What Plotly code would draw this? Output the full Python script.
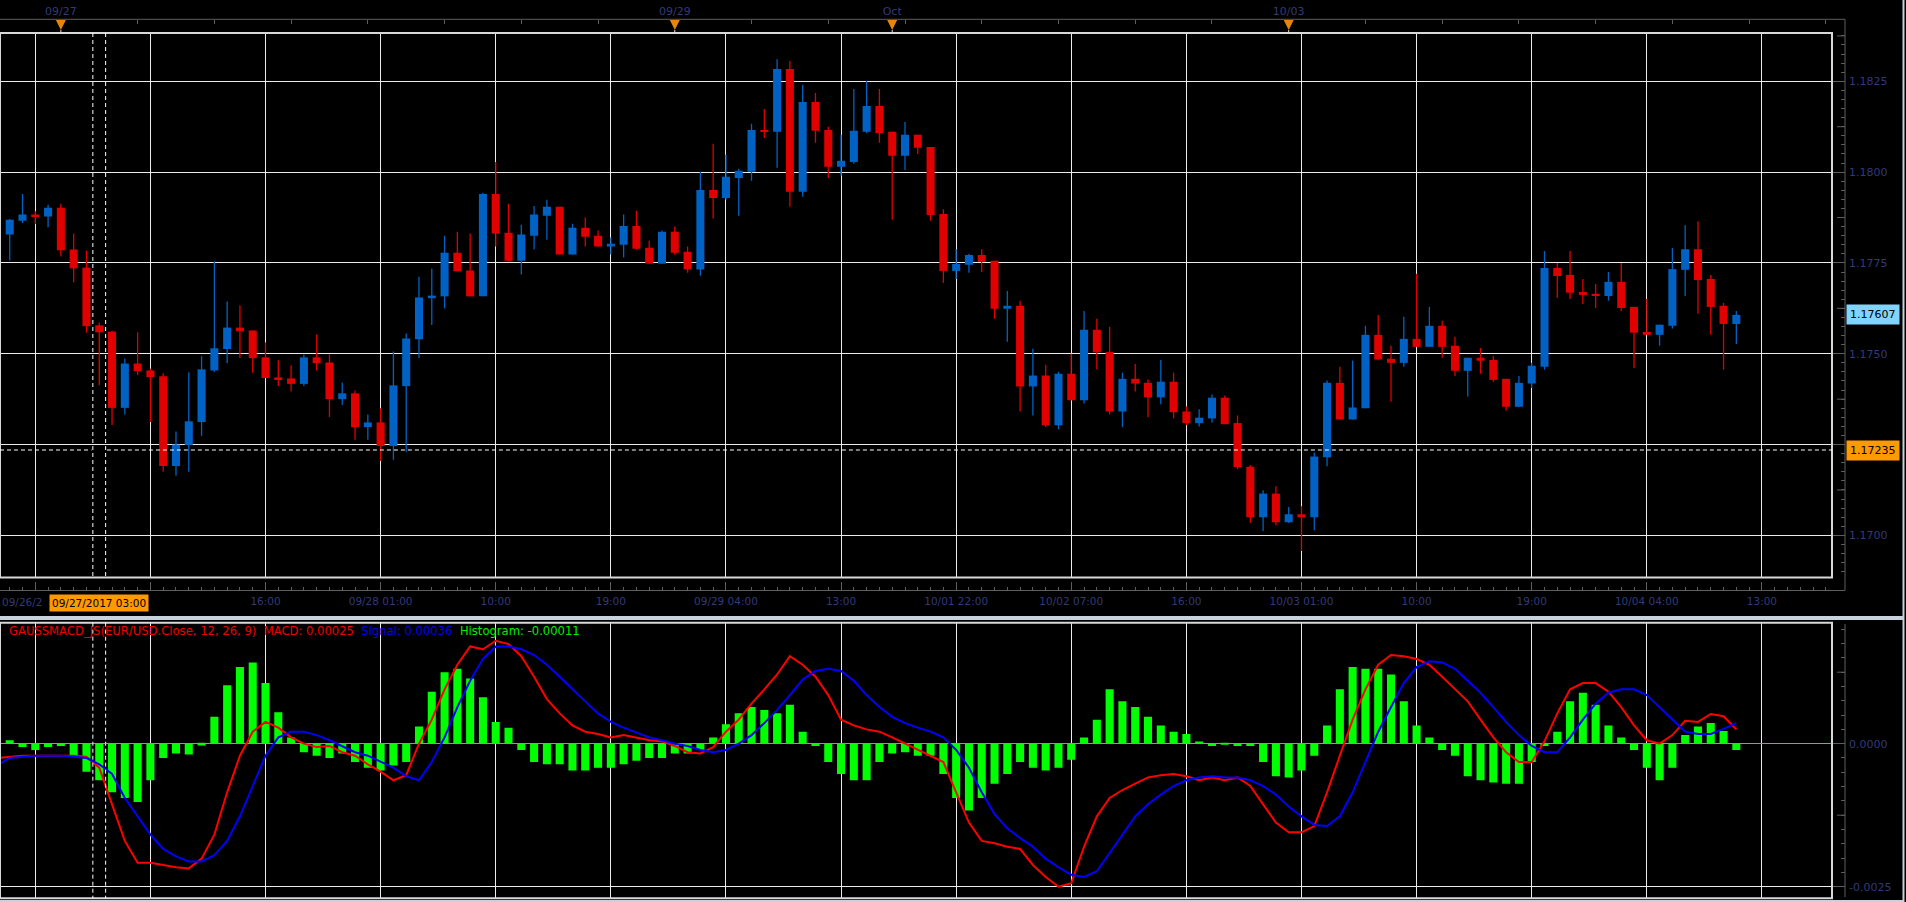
import plotly.graph_objects as go
import pandas as pd

W, H = 1906, 902

# ---------------- data (hourly EUR/USD bars, weekend gap skipped) ----------------
times = list(pd.date_range("2017-09-26 19:00", "2017-09-29 16:00", freq="h")) + \
        list(pd.date_range("2017-10-01 17:00", "2017-10-04 11:00", freq="h"))

open_ = [1.17887, 1.17828, 1.17866, 1.17883, 1.17878, 1.17902, 1.17787, 1.17737, 1.17578, 1.17561,
         1.17351, 1.17473, 1.17454, 1.17438, 1.17191, 1.17249, 1.17312, 1.17454, 1.17513, 1.17572,
         1.17564, 1.17490, 1.17435, 1.17432, 1.17417, 1.17490, 1.17476, 1.17375, 1.17391, 1.17298,
         1.17311, 1.17246, 1.17411, 1.17540, 1.17653, 1.17658, 1.17778, 1.17729, 1.17658, 1.17940,
         1.17833, 1.17756, 1.17825, 1.17880, 1.17905, 1.17773, 1.17847, 1.17825, 1.17795, 1.17800,
         1.17852, 1.17792, 1.17748, 1.17836, 1.17781, 1.17732, 1.17951, 1.17929, 1.17984, 1.18001,
         1.18116, 1.18111, 1.18284, 1.17946, 1.18193, 1.18116, 1.18015, 1.18028, 1.18111, 1.18182,
         1.18111, 1.18045, 1.18103, 1.18069, 1.17885, 1.17728, 1.17745, 1.17772, 1.17756, 1.17624,
         1.17632, 1.17410, 1.17440, 1.17303, 1.17445, 1.17372, 1.17566, 1.17505, 1.17341, 1.17431,
         1.17420, 1.17380, 1.17423, 1.17341, 1.17309, 1.17322, 1.17379, 1.17309, 1.17189, 1.17050,
         1.17115, 1.17036, 1.17058, 1.17050, 1.17215, 1.17420, 1.17319, 1.17350, 1.17552, 1.17486,
         1.17475, 1.17541, 1.17519, 1.17577, 1.17522, 1.17453, 1.17489, 1.17483, 1.17431, 1.17354,
         1.17418, 1.17464, 1.17736, 1.17717, 1.17670, 1.17665, 1.17659, 1.17698, 1.17629, 1.17560,
         1.17552, 1.17577, 1.17731, 1.17788, 1.17706, 1.17632, 1.17582]
high = [1.17897, 1.17871, 1.17940, 1.17892, 1.17910, 1.17913, 1.17831, 1.17784, 1.17585, 1.17563,
        1.17487, 1.17559, 1.17459, 1.17446, 1.17286, 1.17449, 1.17493, 1.17754, 1.17644, 1.17633,
        1.17564, 1.17531, 1.17482, 1.17468, 1.17498, 1.17553, 1.17498, 1.17421, 1.17399, 1.17333,
        1.17350, 1.17506, 1.17556, 1.17712, 1.17734, 1.17825, 1.17836, 1.17831, 1.17943, 1.18028,
        1.17913, 1.17855, 1.17907, 1.17924, 1.17905, 1.17858, 1.17875, 1.17839, 1.17820, 1.17883,
        1.17894, 1.17811, 1.17839, 1.17850, 1.17795, 1.18001, 1.18078, 1.18048, 1.18009, 1.18133,
        1.18174, 1.18311, 1.18306, 1.18240, 1.18218, 1.18125, 1.18103, 1.18229, 1.18251, 1.18229,
        1.18111, 1.18138, 1.18103, 1.18069, 1.17898, 1.17788, 1.17775, 1.17788, 1.17756, 1.17673,
        1.17646, 1.17514, 1.17470, 1.17450, 1.17500, 1.17618, 1.17596, 1.17574, 1.17448, 1.17472,
        1.17429, 1.17483, 1.17448, 1.17355, 1.17347, 1.17388, 1.17385, 1.17330, 1.17193, 1.17124,
        1.17135, 1.17078, 1.17080, 1.17228, 1.17426, 1.17464, 1.17481, 1.17577, 1.17607, 1.17522,
        1.17602, 1.17720, 1.17629, 1.17591, 1.17547, 1.17489, 1.17516, 1.17494, 1.17431, 1.17439,
        1.17475, 1.17783, 1.17750, 1.17783, 1.17706, 1.17692, 1.17725, 1.17750, 1.17629, 1.17651,
        1.17580, 1.17791, 1.17854, 1.17865, 1.17717, 1.17640, 1.17618]
low = [1.17823, 1.17757, 1.17860, 1.17857, 1.17848, 1.17768, 1.17697, 1.17558, 1.17413, 1.17304,
       1.17333, 1.17441, 1.17312, 1.17175, 1.17164, 1.17175, 1.17274, 1.17450, 1.17474, 1.17488,
       1.17448, 1.17433, 1.17411, 1.17397, 1.17411, 1.17454, 1.17326, 1.17359, 1.17263, 1.17263,
       1.17205, 1.17208, 1.17230, 1.17488, 1.17579, 1.17625, 1.17727, 1.17658, 1.17658, 1.17795,
       1.17755, 1.17718, 1.17787, 1.17814, 1.17773, 1.17773, 1.17795, 1.17795, 1.17773, 1.17765,
       1.17787, 1.17748, 1.17748, 1.17773, 1.17723, 1.17715, 1.17872, 1.17924, 1.17880, 1.17976,
       1.18094, 1.18012, 1.17905, 1.17932, 1.18081, 1.17984, 1.17990, 1.18023, 1.18108, 1.18081,
       1.17869, 1.18006, 1.18050, 1.17866, 1.17695, 1.17706, 1.17723, 1.17725, 1.17596, 1.17533,
       1.17341, 1.17330, 1.17298, 1.17292, 1.17372, 1.17363, 1.17457, 1.17333, 1.17298, 1.17396,
       1.17325, 1.17361, 1.17322, 1.17303, 1.17300, 1.17311, 1.17306, 1.17182, 1.17034, 1.17012,
       1.17028, 1.17034, 1.16957, 1.17014, 1.17190, 1.17319, 1.17319, 1.17350, 1.17484, 1.17368,
       1.17464, 1.17519, 1.17519, 1.17489, 1.17439, 1.17382, 1.17445, 1.17423, 1.17343, 1.17354,
       1.17406, 1.17456, 1.17654, 1.17651, 1.17637, 1.17626, 1.17646, 1.17618, 1.17461, 1.17552,
       1.17522, 1.17569, 1.17659, 1.17610, 1.17552, 1.17456, 1.17527]
close = [1.17828, 1.17869, 1.17883, 1.17878, 1.17902, 1.17785, 1.17735, 1.17576, 1.17559, 1.17351,
         1.17473, 1.17452, 1.17436, 1.17191, 1.17250, 1.17314, 1.17457, 1.17515, 1.17572, 1.17562,
         1.17488, 1.17433, 1.17430, 1.17417, 1.17490, 1.17474, 1.17375, 1.17391, 1.17298, 1.17311,
         1.17246, 1.17413, 1.17542, 1.17655, 1.17660, 1.17778, 1.17727, 1.17658, 1.17940, 1.17831,
         1.17756, 1.17828, 1.17883, 1.17905, 1.17773, 1.17847, 1.17822, 1.17795, 1.17803, 1.17852,
         1.17789, 1.17748, 1.17836, 1.17778, 1.17732, 1.17951, 1.17929, 1.17987, 1.18004, 1.18116,
         1.18111, 1.18284, 1.17946, 1.18193, 1.18114, 1.18015, 1.18031, 1.18114, 1.18182, 1.18108,
         1.18045, 1.18103, 1.18067, 1.17882, 1.17728, 1.17747, 1.17772, 1.17753, 1.17624, 1.17632,
         1.17410, 1.17440, 1.17303, 1.17445, 1.17372, 1.17566, 1.17504, 1.17341, 1.17431, 1.17418,
         1.17380, 1.17423, 1.17339, 1.17309, 1.17324, 1.17379, 1.17306, 1.17188, 1.17050, 1.17115,
         1.17036, 1.17058, 1.17050, 1.17217, 1.17420, 1.17319, 1.17352, 1.17552, 1.17484, 1.17475,
         1.17541, 1.17519, 1.17577, 1.17519, 1.17453, 1.17489, 1.17481, 1.17428, 1.17354, 1.17420,
         1.17467, 1.17736, 1.17714, 1.17668, 1.17662, 1.17659, 1.17698, 1.17626, 1.17558, 1.17552,
         1.17580, 1.17733, 1.17788, 1.17703, 1.17629, 1.17582, 1.17607]

macd = [-25e-5, -23e-5, -21e-5, -21e-5, -21e-5, -21e-5, -21e-5, -23e-5, -42e-5, -106e-5,
        -170e-5, -208e-5, -208e-5, -212e-5, -216e-5, -218e-5, -201e-5, -159e-5, -85e-5, -21e-5,
        21e-5, 38e-5, 28e-5, 11e-5, 0e-5, -6e-5, -4e-5, -15e-5, -21e-5, -36e-5,
        -49e-5, -64e-5, -55e-5, 0e-5, 42e-5, 95e-5, 138e-5, 170e-5, 165e-5, 180e-5,
        174e-5, 153e-5, 117e-5, 78e-5, 53e-5, 32e-5, 21e-5, 17e-5, 11e-5, 15e-5,
        11e-5, 6e-5, 4e-5, -4e-5, -15e-5, -17e-5, -6e-5, 21e-5, 42e-5, 70e-5,
        95e-5, 121e-5, 153e-5, 138e-5, 117e-5, 85e-5, 42e-5, 32e-5, 25e-5, 21e-5,
        11e-5, 0e-5, -11e-5, -21e-5, -32e-5, -85e-5, -138e-5, -170e-5, -174e-5, -180e-5,
        -184e-5, -212e-5, -233e-5, -250e-5, -244e-5, -180e-5, -127e-5, -95e-5, -81e-5, -70e-5,
        -59e-5, -55e-5, -53e-5, -57e-5, -64e-5, -59e-5, -64e-5, -59e-5, -74e-5, -106e-5,
        -138e-5, -155e-5, -155e-5, -144e-5, -85e-5, -21e-5, 42e-5, 95e-5, 138e-5, 155e-5,
        153e-5, 148e-5, 138e-5, 117e-5, 95e-5, 74e-5, 42e-5, 11e-5, -15e-5, -32e-5,
        -32e-5, 4e-5, 53e-5, 95e-5, 106e-5, 106e-5, 91e-5, 64e-5, 32e-5, 6e-5,
        0e-5, 15e-5, 40e-5, 38e-5, 52e-5, 48e-5, 25e-5]
signal = [-38e-5, -25e-5, -23e-5, -21e-5, -21e-5, -21e-5, -23e-5, -25e-5, -36e-5, -53e-5,
          -95e-5, -127e-5, -159e-5, -184e-5, -197e-5, -206e-5, -206e-5, -195e-5, -170e-5, -127e-5,
          -74e-5, -21e-5, 11e-5, 21e-5, 21e-5, 15e-5, 6e-5, -4e-5, -15e-5, -21e-5,
          -32e-5, -42e-5, -57e-5, -64e-5, -32e-5, 11e-5, 64e-5, 110e-5, 148e-5, 170e-5,
          170e-5, 165e-5, 155e-5, 138e-5, 117e-5, 95e-5, 74e-5, 53e-5, 38e-5, 28e-5,
          19e-5, 11e-5, 6e-5, 0e-5, -4e-5, -11e-5, -15e-5, -11e-5, 0e-5, 15e-5,
          36e-5, 59e-5, 85e-5, 112e-5, 127e-5, 131e-5, 127e-5, 110e-5, 85e-5, 64e-5,
          47e-5, 36e-5, 28e-5, 21e-5, 11e-5, -11e-5, -42e-5, -85e-5, -123e-5, -148e-5,
          -165e-5, -180e-5, -201e-5, -216e-5, -229e-5, -233e-5, -223e-5, -191e-5, -159e-5, -127e-5,
          -106e-5, -89e-5, -74e-5, -64e-5, -59e-5, -57e-5, -59e-5, -59e-5, -64e-5, -74e-5,
          -89e-5, -110e-5, -127e-5, -142e-5, -144e-5, -127e-5, -85e-5, -32e-5, 21e-5, 64e-5,
          106e-5, 134e-5, 144e-5, 142e-5, 131e-5, 110e-5, 89e-5, 64e-5, 38e-5, 15e-5,
          -4e-5, -15e-5, -15e-5, 11e-5, 42e-5, 70e-5, 89e-5, 95e-5, 95e-5, 85e-5,
          64e-5, 42e-5, 21e-5, 17e-5, 17e-5, 26e-5, 36e-5]
hist = [6e-5, 6e-5, -6e-5, -11e-5, -6e-5, -4e-5, -21e-5, -49e-5, -64e-5, -85e-5,
        -95e-5, -102e-5, -64e-5, -25e-5, -17e-5, -19e-5, -3e-5, 47e-5, 102e-5, 134e-5,
        142e-5, 106e-5, 55e-5, 11e-5, -15e-5, -21e-5, -25e-5, -17e-5, -32e-5, -42e-5,
        -47e-5, -38e-5, -32e-5, 30e-5, 91e-5, 125e-5, 131e-5, 114e-5, 81e-5, 38e-5,
        28e-5, -11e-5, -32e-5, -36e-5, -36e-5, -47e-5, -47e-5, -42e-5, -42e-5, -36e-5,
        -30e-5, -25e-5, -25e-5, -17e-5, -17e-5, -11e-5, 11e-5, 34e-5, 53e-5, 64e-5,
        59e-5, 53e-5, 68e-5, 21e-5, -4e-5, -32e-5, -53e-5, -64e-5, -64e-5, -32e-5,
        -17e-5, -15e-5, -21e-5, -21e-5, -53e-5, -95e-5, -117e-5, -95e-5, -70e-5, -53e-5,
        -32e-5, -42e-5, -47e-5, -42e-5, -28e-5, 11e-5, 42e-5, 95e-5, 74e-5, 64e-5,
        47e-5, 32e-5, 21e-5, 17e-5, 4e-5, -4e-5, -2e-5, -4e-5, -4e-5, -32e-5,
        -57e-5, -59e-5, -47e-5, -21e-5, 32e-5, 95e-5, 134e-5, 131e-5, 131e-5, 121e-5,
        74e-5, 32e-5, 11e-5, -11e-5, -21e-5, -57e-5, -64e-5, -68e-5, -70e-5, -70e-5,
        -32e-5, -4e-5, 21e-5, 74e-5, 89e-5, 68e-5, 32e-5, 11e-5, -11e-5, -42e-5,
        -64e-5, -42e-5, 15e-5, 30e-5, 36e-5, 22e-5, -11e-5]

first_label = "09/26/2"   # visible part of the left-most, clipped time label
x_ticktext = ["", "", "16:00", "09/28 01:00", "10:00", "19:00", "09/29 04:00",
              "13:00", "10/01 22:00", "10/02 07:00", "16:00", "10/03 01:00", "10:00", "19:00",
              "10/04 04:00", "13:00"]
top_labels = ["09/27", "09/29", "Oct", "10/03"]
top_label_times = ["2017-09-27 00:00", "2017-09-29 00:00", "2017-10-01 17:00", "2017-10-03 00:00"]
price_ticks = [1.1700, 1.1725, 1.1750, 1.1775, 1.1800, 1.1825]
price_mid_ticks = [1.17125, 1.17375, 1.17625, 1.17875, 1.18125, 1.18375]
macd_ticks = [0.0, -0.0025]
macd_mid_ticks = [0.00125, -0.00125]
cross_time = "2017-09-27 03:00"
cross_price = 1.17235

# ---------------- style / layout helpers ----------------
FONT = "DejaVu Sans, Verdana, sans-serif"
RED, BLUE, GREEN = "#e00000", "#0062c4", "#00ff00"
GRID = "#ececec"
FRAME = "#d8d8d8"
AXC = "#5e5e5e"
LBL = "#323a78"
ORANGE = "#e3860b"
BAND = "#c8d2dc"

def px(xp):
    return xp / W

def py(yp):
    return 1 - yp / H

xs = list(range(len(times)))
tstr = [t.strftime("%Y-%m-%d %H:%M") for t in times]
top_pos = [tstr.index(t) for t in top_label_times]
cross_k = tstr.index(cross_time)
grid_pos = list(range(3, 3 + 9 * len(x_ticktext), 9))
XR = [0.24, 143.48]

P_TOP, P_BOT = 33.0, 577.5
PR = [1.16884, 1.18383]
M_TOP, M_BOT = 622.7, 898.3
MR = [-0.002703, 0.002115]

fig = go.Figure()

# wicks
up = [c >= o for o, c in zip(open_, close)]
for want, col in ((True, BLUE), (False, RED)):
    wx, wy = [], []
    for k in xs:
        if up[k] == want:
            wx += [k, k, None]
            wy += [low[k], high[k], None]
    fig.add_trace(go.Scatter(x=wx, y=wy, mode="lines", line=dict(color=col, width=1.3),
                             hoverinfo="skip", xaxis="x", yaxis="y"))

# bodies
fig.add_trace(go.Bar(x=xs, base=[min(o, c) for o, c in zip(open_, close)],
                     y=[max(abs(c - o), 3e-5) for o, c in zip(open_, close)],
                     width=0.63, marker=dict(color=[BLUE if u else RED for u in up], line=dict(width=0)),
                     hoverinfo="skip", xaxis="x", yaxis="y"))

# MACD panel
fig.add_trace(go.Bar(x=xs, y=hist, width=0.63, marker=dict(color=GREEN, line=dict(width=0)),
                     hoverinfo="skip", xaxis="x3", yaxis="y2"))
fig.add_trace(go.Scatter(x=xs, y=macd, mode="lines", line=dict(color="#ff0000", width=2),
                         hoverinfo="skip", xaxis="x3", yaxis="y2"))
fig.add_trace(go.Scatter(x=xs, y=signal, mode="lines", line=dict(color="#0000ff", width=2),
                         hoverinfo="skip", xaxis="x3", yaxis="y2"))

# invisible trace so the top (date) axis is drawn
fig.add_trace(go.Scatter(x=top_pos, y=[PR[1]] * len(top_pos), mode="markers",
                         marker=dict(size=1, opacity=0), hoverinfo="skip", xaxis="x2", yaxis="y"))

tickfont = dict(family=FONT, size=10.5, color=LBL)

fig.update_layout(
    width=W, height=H, margin=dict(l=0, r=0, t=0, b=0),
    paper_bgcolor="#000000", plot_bgcolor="#000000",
    showlegend=False, barmode="overlay", hovermode=False,
    xaxis=dict(domain=[0, px(1832)], range=XR, anchor="free", position=py(590.5), side="bottom",
               tickmode="array", tickvals=grid_pos, ticktext=x_ticktext, tickangle=0,
               ticks="inside", ticklen=9, tickwidth=1, tickcolor=AXC,
               showgrid=True, gridcolor=GRID, gridwidth=1, zeroline=False, showline=False,
               tickfont=tickfont, ticklabelstandoff=3,
               minor=dict(tickmode="linear", tick0=0, dtick=1, ticks="inside", ticklen=4,
                          tickcolor=AXC, showgrid=False)),
    xaxis2=dict(overlaying="x", range=XR, anchor="free", position=py(19.3), side="top",
                tickmode="array", tickvals=top_pos, ticktext=top_labels, ticks="", tickangle=0,
                showgrid=False, zeroline=False, showline=False,
                tickfont=dict(family=FONT, size=11, color=LBL), ticklabelstandoff=2,
                minor=dict(tickmode="linear", tick0=top_pos[0], dtick=6, ticks="inside", ticklen=4,
                           tickcolor=AXC, showgrid=False)),
    yaxis=dict(domain=[py(P_BOT), py(P_TOP)], range=PR, anchor="free", position=px(1845), side="right",
               tickmode="array", tickvals=price_ticks,
               ticktext=["" if v == 1.1725 else f"{v:.4f}" for v in price_ticks],
               ticks="inside", ticklen=14, tickwidth=1, tickcolor=AXC,
               showgrid=True, gridcolor=GRID, gridwidth=1, zeroline=False, showline=False,
               tickfont=dict(family=FONT, size=11, color=LBL), ticklabelstandoff=3,
               minor=dict(tickmode="linear", tick0=1.17, dtick=0.00025, ticks="inside", ticklen=4,
                          tickcolor=AXC, showgrid=False)),
    xaxis3=dict(domain=[0, px(1832)], range=XR, matches="x", anchor="y2",
                tickmode="array", tickvals=grid_pos, showticklabels=False, ticks="",
                showgrid=True, gridcolor=GRID, gridwidth=1, zeroline=False, showline=False),
    yaxis2=dict(domain=[py(M_BOT), py(M_TOP)], range=MR, anchor="free", position=px(1845), side="right",
                tickmode="array", tickvals=macd_ticks, ticktext=[f"{v:.4f}" for v in macd_ticks],
                ticks="inside", ticklen=14, tickwidth=1, tickcolor=AXC,
                showgrid=True, gridcolor=GRID, gridwidth=1,
                zeroline=True, zerolinecolor=GREEN, zerolinewidth=1, showline=False,
                tickfont=dict(family=FONT, size=11, color=LBL), ticklabelstandoff=3,
                minor=dict(tickmode="linear", tick0=0, dtick=0.00025, ticks="inside", ticklen=4,
                           tickcolor=AXC, showgrid=False)),
)

shapes = []
# panel frames
shapes.append(dict(type="rect", xref="paper", yref="paper", x0=0, x1=px(1832), y0=py(P_BOT), y1=py(P_TOP),
                   line=dict(color=FRAME, width=2), layer="above"))
shapes.append(dict(type="rect", xref="paper", yref="paper", x0=0, x1=px(1832), y0=py(M_BOT), y1=py(M_TOP),
                   line=dict(color=FRAME, width=2), layer="above"))
# axis box lines
for x0, y0, x1, y1 in [(0, 19.3, 1845, 19.3), (1845, 19.3, 1845, 590.5), (0, 590.5, 1845, 590.5),
                       (1845, 624, 1845, 897)]:
    shapes.append(dict(type="line", xref="paper", yref="paper", x0=px(x0), x1=px(x1), y0=py(y0), y1=py(y1),
                       line=dict(color=AXC, width=1)))
# mid-length axis ticks
for v in price_mid_ticks:
    shapes.append(dict(type="line", xref="paper", yref="y", x0=px(1837), x1=px(1845), y0=v, y1=v,
                       line=dict(color=AXC, width=1)))
for v in macd_mid_ticks:
    shapes.append(dict(type="line", xref="paper", yref="y2", x0=px(1837), x1=px(1845), y0=v, y1=v,
                       line=dict(color=AXC, width=1)))
# separator bands / window edges
shapes.append(dict(type="rect", xref="paper", yref="paper", x0=0, x1=px(1904), y0=py(620), y1=py(616),
                   fillcolor=BAND, line=dict(width=0)))
shapes.append(dict(type="rect", xref="paper", yref="paper", x0=px(1902.5), x1=px(1904.5), y0=0, y1=1,
                   fillcolor=BAND, line=dict(width=0)))
shapes.append(dict(type="rect", xref="paper", yref="paper", x0=0, x1=px(1904), y0=0, y1=py(900),
                   fillcolor=BAND, line=dict(width=0)))
# day markers on the top axis (orange down-triangles) + tiny tick to the frame
for k in top_pos:
    shapes.append(dict(type="path", xref="x", yref="paper", xsizemode="pixel", ysizemode="pixel",
                       xanchor=k, yanchor=py(25), path="M -5 5 L 5 5 L 0 -5 Z",
                       fillcolor=ORANGE, line=dict(width=0)))
    shapes.append(dict(type="line", xref="x", yref="paper", x0=k, x1=k, y0=py(30), y1=py(33),
                       line=dict(color="#e0e0e0", width=1)))
# crosshair
for xk in (cross_k - 0.5, cross_k + 0.5):
    for y0, y1 in ((P_TOP, P_BOT), (M_TOP, M_BOT)):
        shapes.append(dict(type="line", xref="x", yref="paper", x0=xk, x1=xk, y0=py(y0), y1=py(y1),
                           line=dict(color="#ffffff", width=1, dash="4px,3px"), layer="above"))
for x0, x1 in ((XR[0], cross_k - 0.6), (cross_k + 0.6, XR[1])):
    shapes.append(dict(type="line", xref="x", yref="y", x0=x0, x1=x1, y0=cross_price, y1=cross_price,
                       line=dict(color="#ffffff", width=1, dash="4px,3px"), layer="above"))

annotations = []
tagfont = dict(family=FONT, size=11, color="#000000")
# first (clipped) time label at the left edge
annotations.append(dict(xref="paper", yref="paper", x=0, y=py(602), xanchor="left", yanchor="middle",
                        text=first_label, showarrow=False, font=tickfont))
annotations.append(dict(xref="paper", yref="y", x=px(1846), y=close[-1], xanchor="left", yanchor="middle",
                        text=f"{close[-1]:.5f}", showarrow=False, bgcolor="#80d4ff", font=tagfont,
                        borderpad=3))
annotations.append(dict(xref="paper", yref="y", x=px(1846), y=cross_price, xanchor="left", yanchor="middle",
                        text=f"{cross_price:.5f}", showarrow=False, bgcolor="#ff9900", font=tagfont,
                        borderpad=3))
annotations.append(dict(xref="x", yref="paper", x=cross_k, y=py(603), xanchor="center", yanchor="middle",
                        text=times[cross_k].strftime("%m/%d/%Y %H:%M"), showarrow=False,
                        bgcolor="#ff9900", font=dict(family=FONT, size=10.5, color="#000000"), borderpad=2))
sp = "\u00a0\u00a0"
legend_html = (f'<span style="color:#ee0000">GAUSSMACD_JS(EUR/USD.Close, 12, 26, 9){sp}MACD: {macd[-1]:.5f}</span>{sp}'
               f'<span style="color:#0000ee">Signal: {signal[-1]:.5f}</span>{sp}'
               f'<span style="color:#00ee00">Histogram: {hist[-1]:.5f}</span>')
annotations.append(dict(xref="paper", yref="paper", x=px(7), y=py(631), xanchor="left", yanchor="middle",
                        text=legend_html, showarrow=False, font=dict(family=FONT, size=11.6, color="#ee0000")))

fig.update_layout(shapes=shapes, annotations=annotations)

fig.write_html("out.html", config={"displayModeBar": False})
